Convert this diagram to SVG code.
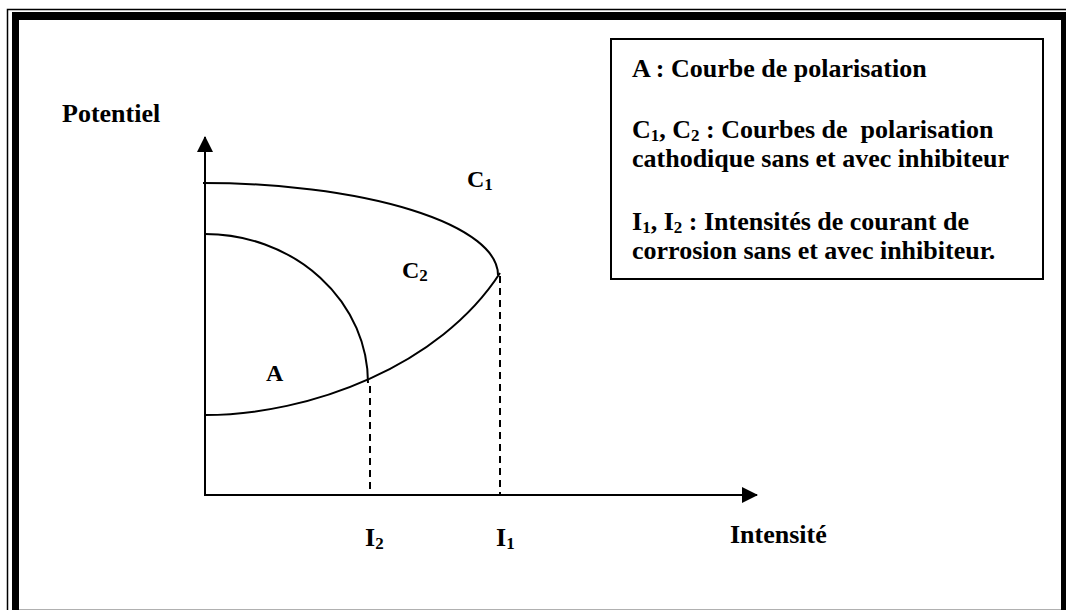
<svg xmlns="http://www.w3.org/2000/svg" width="1066" height="610" viewBox="0 0 1066 610">
<style>
text{font-family:"Liberation Serif","Times New Roman",serif;font-weight:bold;fill:#000}
.lg{font-size:26px}
.pl{font-size:24px}
.sub{font-size:17px}
.ax{stroke:#000;stroke-width:2;fill:none}
.cv{stroke:#000;stroke-width:2;fill:none}
.dash{stroke:#000;stroke-width:2;stroke-dasharray:7,5;fill:none}
</style>
<defs>
<marker id="arr" viewBox="0 0 16 16" refX="15" refY="8" markerWidth="16" markerHeight="16" markerUnits="userSpaceOnUse" orient="auto">
<path d="M0,0 L16,8 L0,16 Z" fill="#000"/>
</marker>
</defs>
<rect width="1066" height="610" fill="#fff"/>
<g id="frame">
<path d="M1066,9.5 H7.5 V610" fill="none" stroke="#000" stroke-width="1.5"/>
<rect x="12" y="12" width="1054" height="8" fill="#000"/>
<rect x="12" y="12" width="7" height="598" fill="#000"/>
<rect x="1061" y="12" width="5" height="598" fill="#000"/>
<line x1="19" y1="609.5" x2="1061" y2="609.5" stroke="#b0b0b0" stroke-width="1"/>
</g>
<g id="connectors">
<line class="ax" x1="205" y1="495" x2="205" y2="137" marker-end="url(#arr)"/>
<line class="ax" x1="204" y1="495" x2="757" y2="495" marker-end="url(#arr)"/>
<path class="dash" d="M370,386 V495"/>
<path class="dash" d="M500,276 V495"/>
</g>
<g id="curve-C1"><path class="cv" d="M203,183 A295,92 0 0 1 498,275"/></g>
<g id="curve-C2"><path class="cv" d="M205,415 C310,415 440,366 500,273"/></g>
<g id="curve-A"><path class="cv" d="M205,234 A163,149 0 0 1 368,383"/></g>
<g id="labels">
<text class="lg" x="62" y="122">Potentiel</text>
<text class="lg" x="730" y="543">Intensité</text>
<text class="pl" x="467" y="187">C<tspan class="sub" dy="3">1</tspan></text>
<text class="pl" x="402" y="278">C<tspan class="sub" dy="3">2</tspan></text>
<text class="pl" x="266" y="381">A</text>
<text class="lg" x="365" y="546">I<tspan class="sub" dy="3">2</tspan></text>
<text class="lg" x="496" y="546">I<tspan class="sub" dy="3">1</tspan></text>
</g>
<g id="legend">
<rect x="611" y="39" width="432" height="240" fill="#fff" stroke="#000" stroke-width="2"/>
<text class="lg" x="632" y="77">A : Courbe de polarisation</text>
<text class="lg" x="632" y="138" xml:space="preserve">C<tspan class="sub" dy="3">1</tspan><tspan dy="-3">, C</tspan><tspan class="sub" dy="3">2</tspan><tspan dy="-3"> : Courbes de  polarisation</tspan></text>
<text class="lg" x="632" y="167">cathodique sans et avec inhibiteur</text>
<text class="lg" x="632" y="230" xml:space="preserve">I<tspan class="sub" dy="3">1</tspan><tspan dy="-3">, I</tspan><tspan class="sub" dy="3">2</tspan><tspan dy="-3"> : Intensités de courant de</tspan></text>
<text class="lg" x="632" y="259">corrosion sans et avec inhibiteur.</text>
</g>
</svg>
